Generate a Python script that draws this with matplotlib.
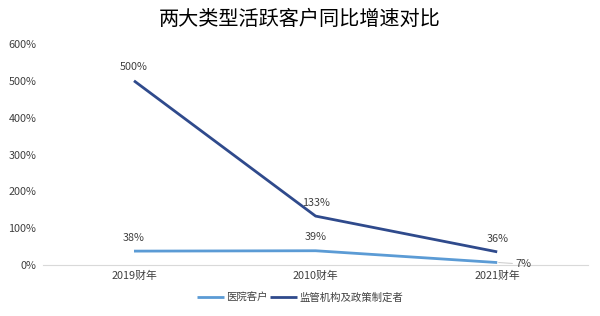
import matplotlib
matplotlib.use("Agg")
import matplotlib.pyplot as plt
from matplotlib.ticker import FuncFormatter

plt.rcParams['font.family'] = ['Noto Sans CJK SC', 'DejaVu Sans']

categories = ["2019财年", "2010财年", "2021财年"]
hospital = [38, 39, 7]
regulator = [500, 133, 36]
series_names = ["医院客户", "监管机构及政策制定者"]
yticks = [0, 100, 200, 300, 400, 500, 600]

c_light = "#5B9BD5"
c_dark = "#2F4A8C"

fig = plt.figure(figsize=(6.0, 3.16), dpi=100)
ax = fig.add_axes([0.072, 0.161, 0.908, 0.70])
x = [i + 0.5 for i in range(len(categories))]
ax.plot(x, hospital, color=c_light, lw=2.0, label=series_names[0], solid_capstyle='butt')
ax.plot(x, regulator, color=c_dark, lw=2.0, label=series_names[1], solid_capstyle='butt')

ax.set_xlim(0, 3)
ax.set_ylim(0, 600)
ax.set_yticks(yticks)
ax.yaxis.set_major_formatter(FuncFormatter(lambda v, p: f"{int(v)}%"))
ax.set_xticks(x)
ax.set_xticklabels(categories)
for s in ["top", "right", "left"]:
    ax.spines[s].set_visible(False)
ax.spines["bottom"].set_color("#D9D9D9")
ax.tick_params(axis='both', length=0, labelsize=7.8, colors="#404040")
ax.tick_params(axis='x', pad=4)
ax.tick_params(axis='y', pad=5)

for i, v in enumerate(regulator):
    ax.annotate(f"{v}%", (x[i], v), xytext=(0, 6), textcoords="offset points",
                ha="center", va="bottom", fontsize=7.8, color="#404040")
for i, v in enumerate(hospital):
    if i < 2:
        ax.annotate(f"{v}%", (x[i], v), xytext=(0, 6), textcoords="offset points",
                    ha="center", va="bottom", fontsize=7.8, color="#404040")
    else:
        ax.annotate(f"{v}%", (x[i], v), xytext=(13, -1), textcoords="offset points",
                    ha="left", va="center", fontsize=7.8, color="#404040",
                    arrowprops=dict(arrowstyle="-", color="#BFBFBF", lw=0.6,
                                    shrinkA=0, shrinkB=1))

fig.suptitle("两大类型活跃客户同比增速对比", x=0.5, y=0.97, fontsize=14.5, color="#000000",
             fontweight="normal")
leg = fig.legend(loc="center", bbox_to_anchor=(0.5, 0.058), ncol=2, frameon=False,
                 fontsize=7.5, handlelength=2.6, handletextpad=0.2, columnspacing=0.2)
for t in leg.get_texts():
    t.set_color("#404040")

fig.savefig("out.png", dpi=100)
